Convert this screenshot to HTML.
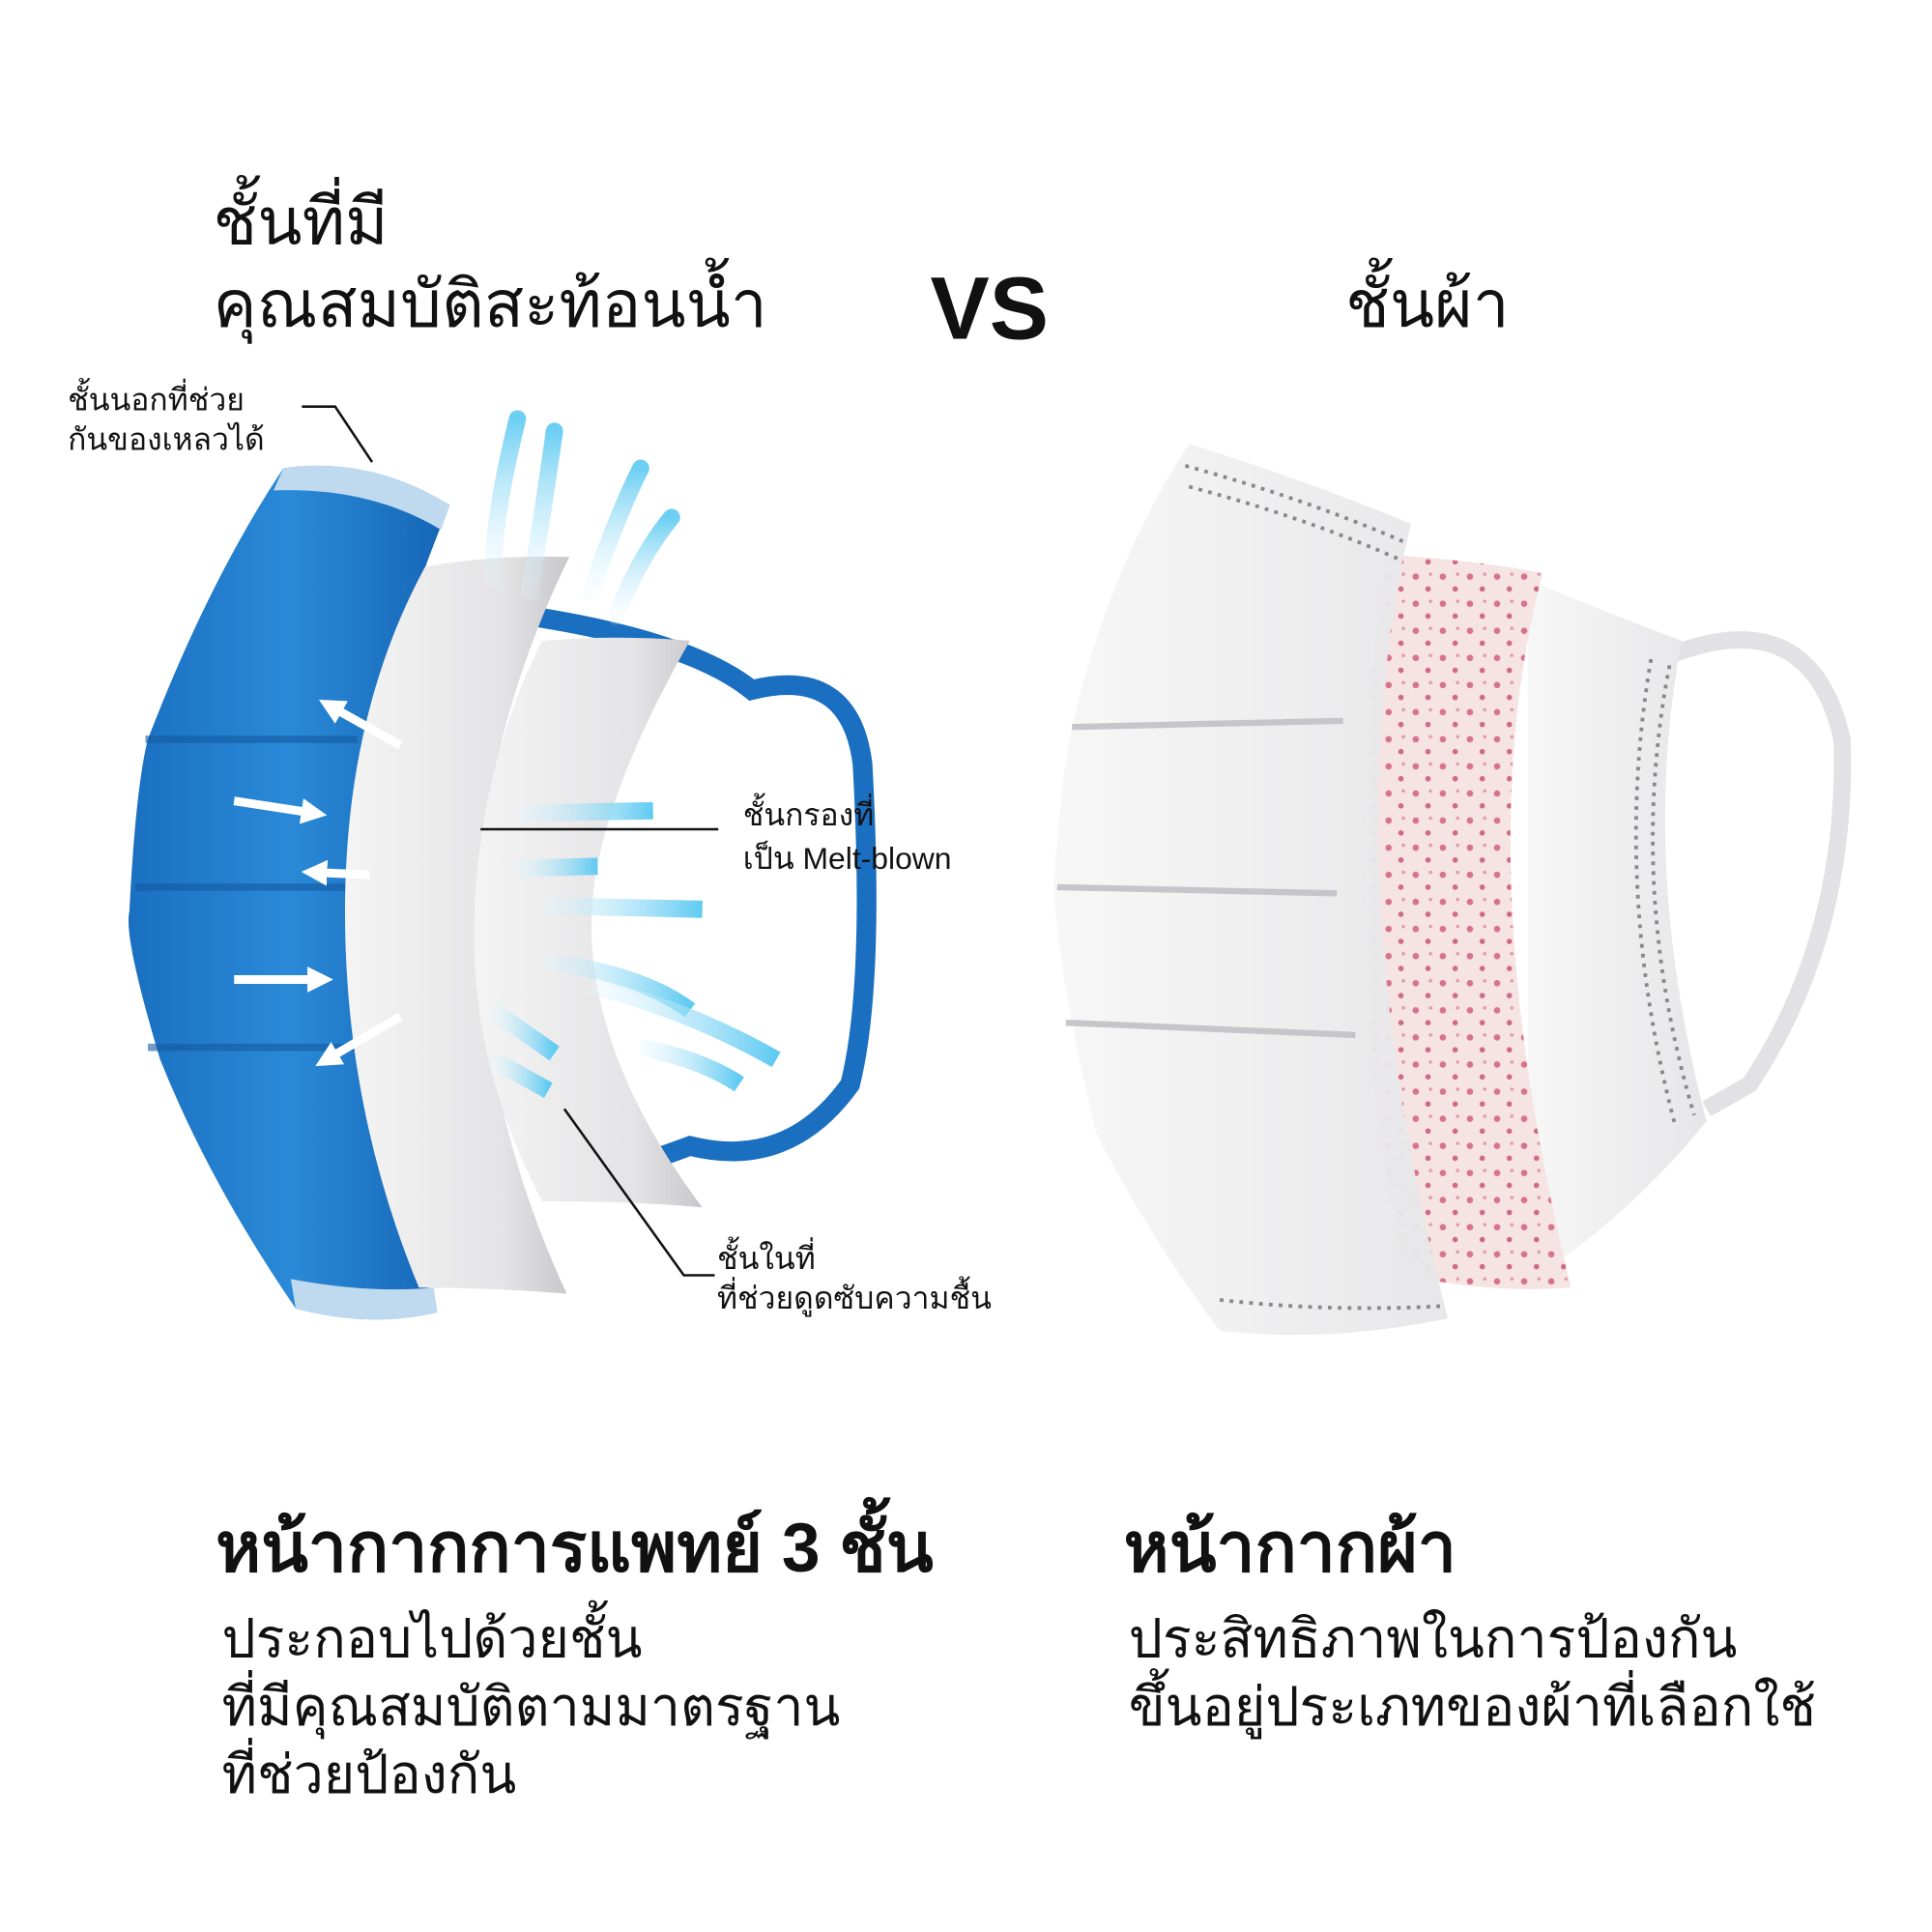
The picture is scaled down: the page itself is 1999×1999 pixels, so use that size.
<!DOCTYPE html>
<html><head><meta charset="utf-8"><style>
html,body{margin:0;padding:0;background:#fff}
svg{display:block}
text{font-family:"Liberation Sans","DejaVu Sans","Noto Sans CJK SC",sans-serif;fill:#111}
</style></head><body>
<svg width="1999" height="1999" viewBox="0 0 1568 1568" xmlns="http://www.w3.org/2000/svg">
<defs>
<linearGradient id="bl" x1="0" x2="1"><stop offset="0" stop-color="#1a6fc0"/><stop offset="0.5" stop-color="#2a8ad8"/><stop offset="1" stop-color="#1565b5"/></linearGradient>
<linearGradient id="wh" x1="0" x2="1"><stop offset="0" stop-color="#f4f4f4"/><stop offset="0.7" stop-color="#e4e4e6"/><stop offset="1" stop-color="#c8c8cc"/></linearGradient>
<linearGradient id="wm" x1="0" x2="1"><stop offset="0" stop-color="#f7f7f7"/><stop offset="1" stop-color="#e6e6e8"/></linearGradient>
<linearGradient id="ar" x1="0" x2="1"><stop offset="0" stop-color="#e6f6fc" stop-opacity="0.3"/><stop offset="1" stop-color="#5fcaf2"/></linearGradient>
<linearGradient id="au" x1="0" y1="1" x2="0" y2="0"><stop offset="0" stop-color="#e6f6fc" stop-opacity="0.2"/><stop offset="1" stop-color="#6ccff3"/></linearGradient>
<pattern id="pk" width="22" height="22" patternUnits="userSpaceOnUse"><rect width="22" height="22" fill="#f6e3e3"/><circle cx="5" cy="6" r="2.6" fill="#d7748a"/><circle cx="15" cy="16" r="2.2" fill="#cf6a80"/><circle cx="17" cy="4" r="1.4" fill="#e09aa8"/></pattern>
<marker id="wa" viewBox="0 0 10 10" refX="5" refY="5" markerWidth="3" markerHeight="3" orient="auto"><path d="M0 0 L10 5 L0 10Z" fill="#fff"/></marker>
</defs>

<text x="173" y="198" font-size="53">ชั้นที่มี</text>
<text x="173" y="265" font-size="53">คุณสมบัติสะท้อนน้ำ</text>
<text x="755" y="275" font-size="72" font-weight="bold">VS</text>
<text x="1092" y="265" font-size="53">ชั้นผ้า</text>

<path d="M430 500 Q560 520 610 560 Q690 540 700 620 Q710 800 690 880 Q640 950 560 930 Q480 960 440 960" fill="none" stroke="#1a6fc0" stroke-width="16"/>
<path d="M230 380 Q300 370 365 410 Q300 560 300 720 Q300 900 355 1065 Q300 1078 240 1062 Q170 960 130 860 Q100 760 105 740 Q110 640 120 600 Q170 470 230 380Z" fill="url(#bl)"/>
<path d="M230 380 Q300 370 365 410 L358 430 Q300 395 222 398Z" fill="#bfd9ef"/>
<path d="M236 1038 Q300 1050 352 1045 L355 1065 Q300 1078 240 1062Z" fill="#bfd9ef"/>
<path d="M118 600 L290 600 M110 720 L285 720 M120 850 L290 850" stroke="#155aa0" stroke-width="6" opacity="0.6"/>
<path d="M345 460 Q400 450 462 452 Q390 600 390 740 Q390 900 460 1050 Q400 1045 340 1045 Q280 900 280 740 Q280 580 345 460Z" fill="url(#wh)"/>
<path d="M440 520 Q500 515 560 520 Q480 660 480 750 Q480 860 570 980 Q520 975 440 975 Q380 860 385 740 Q390 620 440 520Z" fill="url(#wh)"/>
<g fill="none" stroke="url(#au)" stroke-width="14" stroke-linecap="round">
<path d="M400 470 Q400 420 420 340"/><path d="M430 480 Q440 420 450 350"/><path d="M480 480 Q500 420 520 380"/><path d="M500 500 Q520 450 545 420"/>
</g>
<g fill="none" stroke="url(#ar)" stroke-width="14">
<path d="M420 660 L530 658"/><path d="M420 705 L485 703"/><path d="M440 735 L570 738"/><path d="M440 780 Q520 790 560 820"/><path d="M480 800 Q560 820 630 860"/><path d="M400 820 L450 855"/><path d="M400 860 L445 885"/><path d="M520 850 Q570 860 600 880"/>
</g>
<g stroke="#fff" stroke-width="7" fill="none">
<path d="M325 605 L268 573" marker-end="url(#wa)"/><path d="M190 650 L255 660" marker-end="url(#wa)"/><path d="M300 710 L255 708" marker-end="url(#wa)"/><path d="M190 795 L260 795" marker-end="url(#wa)"/><path d="M325 825 L265 860" marker-end="url(#wa)"/>
</g>
<text x="55" y="333" font-size="25">ชั้นนอกที่ช่วย</text>
<text x="55" y="365" font-size="25">กันของเหลวได้</text>
<path d="M245 330 L272 330 L302 375" fill="none" stroke="#111" stroke-width="2"/>
<path d="M390 673 L583 673" stroke="#111" stroke-width="2"/>
<text x="603" y="670" font-size="25">ชั้นกรองที่</text>
<text x="603" y="705" font-size="25">เป็น Melt-blown</text>
<path d="M458 900 L555 1035 L580 1035" fill="none" stroke="#111" stroke-width="2"/>
<text x="582" y="1030" font-size="25">ชั้นในที่</text>
<text x="582" y="1062" font-size="25">ที่ช่วยดูดซับความชื้น</text>

<path d="M1360 530 Q1470 490 1495 600 Q1500 760 1420 880 L1385 900" fill="none" stroke="#e2e2e4" stroke-width="14"/>
<path d="M1240 470 Q1310 500 1365 520 Q1330 700 1385 910 Q1320 990 1240 1040Z" fill="url(#wm)"/>
<path d="M1125 450 Q1200 455 1252 465 Q1190 700 1275 1045 Q1210 1050 1140 1035 Q1080 760 1125 450Z" fill="url(#pk)"/>
<path d="M965 360 Q1060 390 1145 425 Q1080 700 1175 1070 Q1080 1090 990 1080 Q930 1000 890 920 Q860 800 855 720 Q860 640 870 590 Q900 460 965 360Z" fill="url(#wm)" opacity="0.95"/>
<path d="M870 590 L1090 585 M858 720 L1085 725 M865 830 L1100 840" stroke="#c6c6ca" stroke-width="5"/>
<path d="M962 378 Q1060 405 1140 440 M965 395 Q1060 420 1138 455 M990 1055 Q1080 1065 1170 1060" fill="none" stroke="#888" stroke-width="3" stroke-dasharray="3 5"/>
<path d="M1355 540 Q1320 720 1375 905 M1340 535 Q1308 720 1360 915" fill="none" stroke="#888" stroke-width="3" stroke-dasharray="3 5"/>

<text x="175" y="1275" font-size="56" font-weight="bold">หน้ากากการแพทย์ 3 ชั้น</text>
<text x="180" y="1345" font-size="43.5">ประกอบไปด้วยชั้น</text>
<text x="180" y="1400" font-size="43.5">ที่มีคุณสมบัติตามมาตรฐาน</text>
<text x="180" y="1455" font-size="43.5">ที่ช่วยป้องกัน</text>
<text x="912" y="1275" font-size="56" font-weight="bold">หน้ากากผ้า</text>
<text x="916" y="1345" font-size="43.5">ประสิทธิภาพในการป้องกัน</text>
<text x="916" y="1400" font-size="43.5">ขึ้นอยู่ประเภทของผ้าที่เลือกใช้</text>
</svg>
</body></html>
